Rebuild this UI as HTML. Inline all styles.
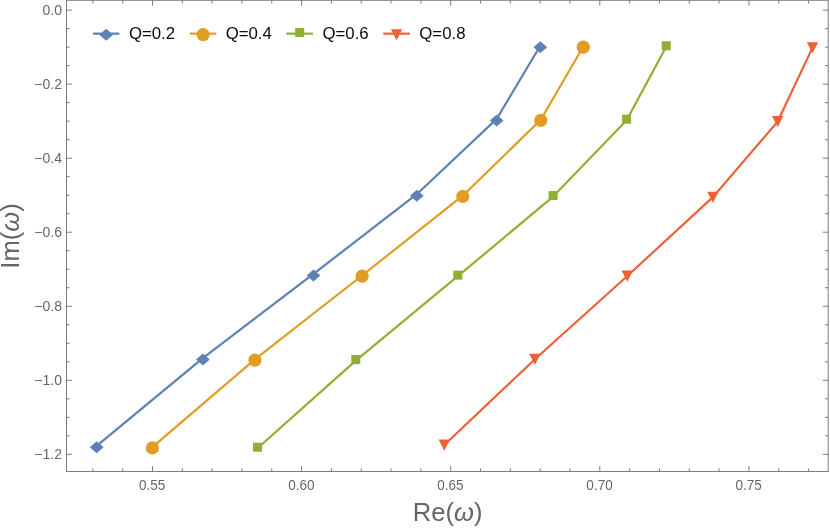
<!DOCTYPE html>
<html><head><meta charset="utf-8"><title>plot</title>
<style>
html,body{margin:0;padding:0;background:#fff;}
body{width:830px;height:530px;position:relative;overflow:hidden;-webkit-font-smoothing:antialiased;font-family:"Liberation Sans",sans-serif;}
svg text{font-family:"Liberation Sans",sans-serif;}
</style></head><body>
<svg width="830" height="530" viewBox="0 0 830 530" style="display:block;position:absolute;left:0;top:0;will-change:transform">
<rect x="0" y="0" width="830" height="530" fill="#fff"/>
<path d="M92.86 471.5v-3.2M92.86 0.3v3.2M122.68 471.5v-3.2M122.68 0.3v3.2M152.50 471.5v-5.4M152.50 0.3v5.4M182.32 471.5v-3.2M182.32 0.3v3.2M212.14 471.5v-3.2M212.14 0.3v3.2M241.96 471.5v-3.2M241.96 0.3v3.2M271.78 471.5v-3.2M271.78 0.3v3.2M301.60 471.5v-5.4M301.60 0.3v5.4M331.42 471.5v-3.2M331.42 0.3v3.2M361.24 471.5v-3.2M361.24 0.3v3.2M391.06 471.5v-3.2M391.06 0.3v3.2M420.88 471.5v-3.2M420.88 0.3v3.2M450.70 471.5v-5.4M450.70 0.3v5.4M480.52 471.5v-3.2M480.52 0.3v3.2M510.34 471.5v-3.2M510.34 0.3v3.2M540.16 471.5v-3.2M540.16 0.3v3.2M569.98 471.5v-3.2M569.98 0.3v3.2M599.80 471.5v-5.4M599.80 0.3v5.4M629.62 471.5v-3.2M629.62 0.3v3.2M659.44 471.5v-3.2M659.44 0.3v3.2M689.26 471.5v-3.2M689.26 0.3v3.2M719.08 471.5v-3.2M719.08 0.3v3.2M748.90 471.5v-5.4M748.90 0.3v5.4M778.72 471.5v-3.2M778.72 0.3v3.2M808.54 471.5v-3.2M808.54 0.3v3.2M66.5 10.10h5.4M828.17 10.10h-5.4M66.5 28.61h3.2M828.17 28.61h-3.2M66.5 47.12h3.2M828.17 47.12h-3.2M66.5 65.63h3.2M828.17 65.63h-3.2M66.5 84.14h5.4M828.17 84.14h-5.4M66.5 102.65h3.2M828.17 102.65h-3.2M66.5 121.16h3.2M828.17 121.16h-3.2M66.5 139.67h3.2M828.17 139.67h-3.2M66.5 158.18h5.4M828.17 158.18h-5.4M66.5 176.69h3.2M828.17 176.69h-3.2M66.5 195.20h3.2M828.17 195.20h-3.2M66.5 213.71h3.2M828.17 213.71h-3.2M66.5 232.22h5.4M828.17 232.22h-5.4M66.5 250.73h3.2M828.17 250.73h-3.2M66.5 269.24h3.2M828.17 269.24h-3.2M66.5 287.75h3.2M828.17 287.75h-3.2M66.5 306.26h5.4M828.17 306.26h-5.4M66.5 324.77h3.2M828.17 324.77h-3.2M66.5 343.28h3.2M828.17 343.28h-3.2M66.5 361.79h3.2M828.17 361.79h-3.2M66.5 380.30h5.4M828.17 380.30h-5.4M66.5 398.81h3.2M828.17 398.81h-3.2M66.5 417.32h3.2M828.17 417.32h-3.2M66.5 435.83h3.2M828.17 435.83h-3.2M66.5 454.34h5.4M828.17 454.34h-5.4" stroke="#7c7c7c" stroke-width="1" fill="none"/>
<rect x="66.5" y="0.3" width="761.67" height="471.2" fill="none" stroke="#7c7c7c" stroke-width="1"/>
<polyline points="96.70,445.80 202.90,358.10 313.50,273.90 416.80,194.20 496.70,118.90 540.30,45.70" fill="none" stroke="#5E81B5" stroke-width="2.2" stroke-linejoin="round" stroke-linecap="butt"/>
<path d="M89.80 447.30L96.70 441.30L103.60 447.30L96.70 453.30Z" fill="#5E81B5"/>
<path d="M196.00 359.60L202.90 353.60L209.80 359.60L202.90 365.60Z" fill="#5E81B5"/>
<path d="M306.60 275.40L313.50 269.40L320.40 275.40L313.50 281.40Z" fill="#5E81B5"/>
<path d="M409.90 195.70L416.80 189.70L423.70 195.70L416.80 201.70Z" fill="#5E81B5"/>
<path d="M489.80 120.40L496.70 114.40L503.60 120.40L496.70 126.40Z" fill="#5E81B5"/>
<path d="M533.40 47.20L540.30 41.20L547.20 47.20L540.30 53.20Z" fill="#5E81B5"/>
<polyline points="152.40,447.20 254.90,359.40 362.10,275.50 462.80,195.70 540.80,119.70 583.30,46.50" fill="none" stroke="#E19C24" stroke-width="2.2" stroke-linejoin="round" stroke-linecap="butt"/>
<circle cx="152.40" cy="447.90" r="6.6" fill="#E19C24"/>
<circle cx="254.90" cy="360.10" r="6.6" fill="#E19C24"/>
<circle cx="362.10" cy="276.20" r="6.6" fill="#E19C24"/>
<circle cx="462.80" cy="196.40" r="6.6" fill="#E19C24"/>
<circle cx="540.80" cy="120.40" r="6.6" fill="#E19C24"/>
<circle cx="583.30" cy="47.20" r="6.6" fill="#E19C24"/>
<polyline points="257.50,448.30 355.80,360.60 457.80,276.20 553.10,196.60 626.60,120.20 666.20,46.80" fill="none" stroke="#8FB032" stroke-width="2.2" stroke-linejoin="round" stroke-linecap="butt"/>
<rect x="253.00" y="442.75" width="9.00" height="9.00" fill="#8FB032"/>
<rect x="351.30" y="355.05" width="9.00" height="9.00" fill="#8FB032"/>
<rect x="453.30" y="270.65" width="9.00" height="9.00" fill="#8FB032"/>
<rect x="548.60" y="191.05" width="9.00" height="9.00" fill="#8FB032"/>
<rect x="622.10" y="114.65" width="9.00" height="9.00" fill="#8FB032"/>
<rect x="661.70" y="41.25" width="9.00" height="9.00" fill="#8FB032"/>
<polyline points="444.30,445.00 534.90,359.20 627.30,276.00 712.90,197.10 777.70,121.50 812.50,47.60" fill="none" stroke="#EB6235" stroke-width="2.2" stroke-linejoin="round" stroke-linecap="butt"/>
<path d="M438.60 439.60L450.00 439.60L444.30 450.70Z" fill="#EB6235"/>
<path d="M529.20 353.80L540.60 353.80L534.90 364.90Z" fill="#EB6235"/>
<path d="M621.60 270.60L633.00 270.60L627.30 281.70Z" fill="#EB6235"/>
<path d="M707.20 191.70L718.60 191.70L712.90 202.80Z" fill="#EB6235"/>
<path d="M772.00 116.10L783.40 116.10L777.70 127.20Z" fill="#EB6235"/>
<path d="M806.80 42.20L818.20 42.20L812.50 53.30Z" fill="#EB6235"/>
<path d="M92.90 33.65h26.5" stroke="#5E81B5" stroke-width="2.2" fill="none"/>
<path d="M99.30 34.85L106.20 28.85L113.10 34.85L106.20 40.85Z" fill="#5E81B5"/>
<text x="128.90" y="39.2" font-size="16.8" fill="#0a0a0a">Q=0.2</text>
<path d="M189.80 33.65h26.5" stroke="#E19C24" stroke-width="2.2" fill="none"/>
<circle cx="203.10" cy="34.65" r="6.6" fill="#E19C24"/>
<text x="225.70" y="39.2" font-size="16.8" fill="#0a0a0a">Q=0.4</text>
<path d="M286.40 33.65h26.5" stroke="#8FB032" stroke-width="2.2" fill="none"/>
<rect x="295.20" y="27.95" width="9.00" height="9.00" fill="#8FB032"/>
<text x="322.50" y="39.2" font-size="16.8" fill="#0a0a0a">Q=0.6</text>
<path d="M383.30 33.65h26.5" stroke="#EB6235" stroke-width="2.2" fill="none"/>
<path d="M390.90 29.25L402.30 29.25L396.60 40.35Z" fill="#EB6235"/>
<text x="419.30" y="39.2" font-size="16.8" fill="#0a0a0a">Q=0.8</text>
<text transform="translate(152.20,489.7) scale(0.965,1)" font-size="14" fill="#666666" text-anchor="middle">0.55</text>
<text transform="translate(301.30,489.7) scale(0.965,1)" font-size="14" fill="#666666" text-anchor="middle">0.60</text>
<text transform="translate(450.40,489.7) scale(0.965,1)" font-size="14" fill="#666666" text-anchor="middle">0.65</text>
<text transform="translate(599.50,489.7) scale(0.965,1)" font-size="14" fill="#666666" text-anchor="middle">0.70</text>
<text transform="translate(748.60,489.7) scale(0.965,1)" font-size="14" fill="#666666" text-anchor="middle">0.75</text>
<text x="62" y="15.10" font-size="14" fill="#666666" text-anchor="end">0.0</text>
<text x="62" y="89.14" font-size="14" fill="#666666" text-anchor="end">−0.2</text>
<text x="62" y="163.18" font-size="14" fill="#666666" text-anchor="end">−0.4</text>
<text x="62" y="237.22" font-size="14" fill="#666666" text-anchor="end">−0.6</text>
<text x="62" y="311.26" font-size="14" fill="#666666" text-anchor="end">−0.8</text>
<text x="62" y="385.30" font-size="14" fill="#666666" text-anchor="end">−1.0</text>
<text x="62" y="459.34" font-size="14" fill="#666666" text-anchor="end">−1.2</text>
<text x="447.7" y="521" font-size="25.6" fill="#666666" text-anchor="middle">Re(<tspan font-style="italic">ω</tspan>)</text>
<text transform="translate(19.2,236.0) rotate(-90)" font-size="25.6" fill="#666666" text-anchor="middle">Im(<tspan font-style="italic">ω</tspan>)</text>
</svg>
</body></html>
